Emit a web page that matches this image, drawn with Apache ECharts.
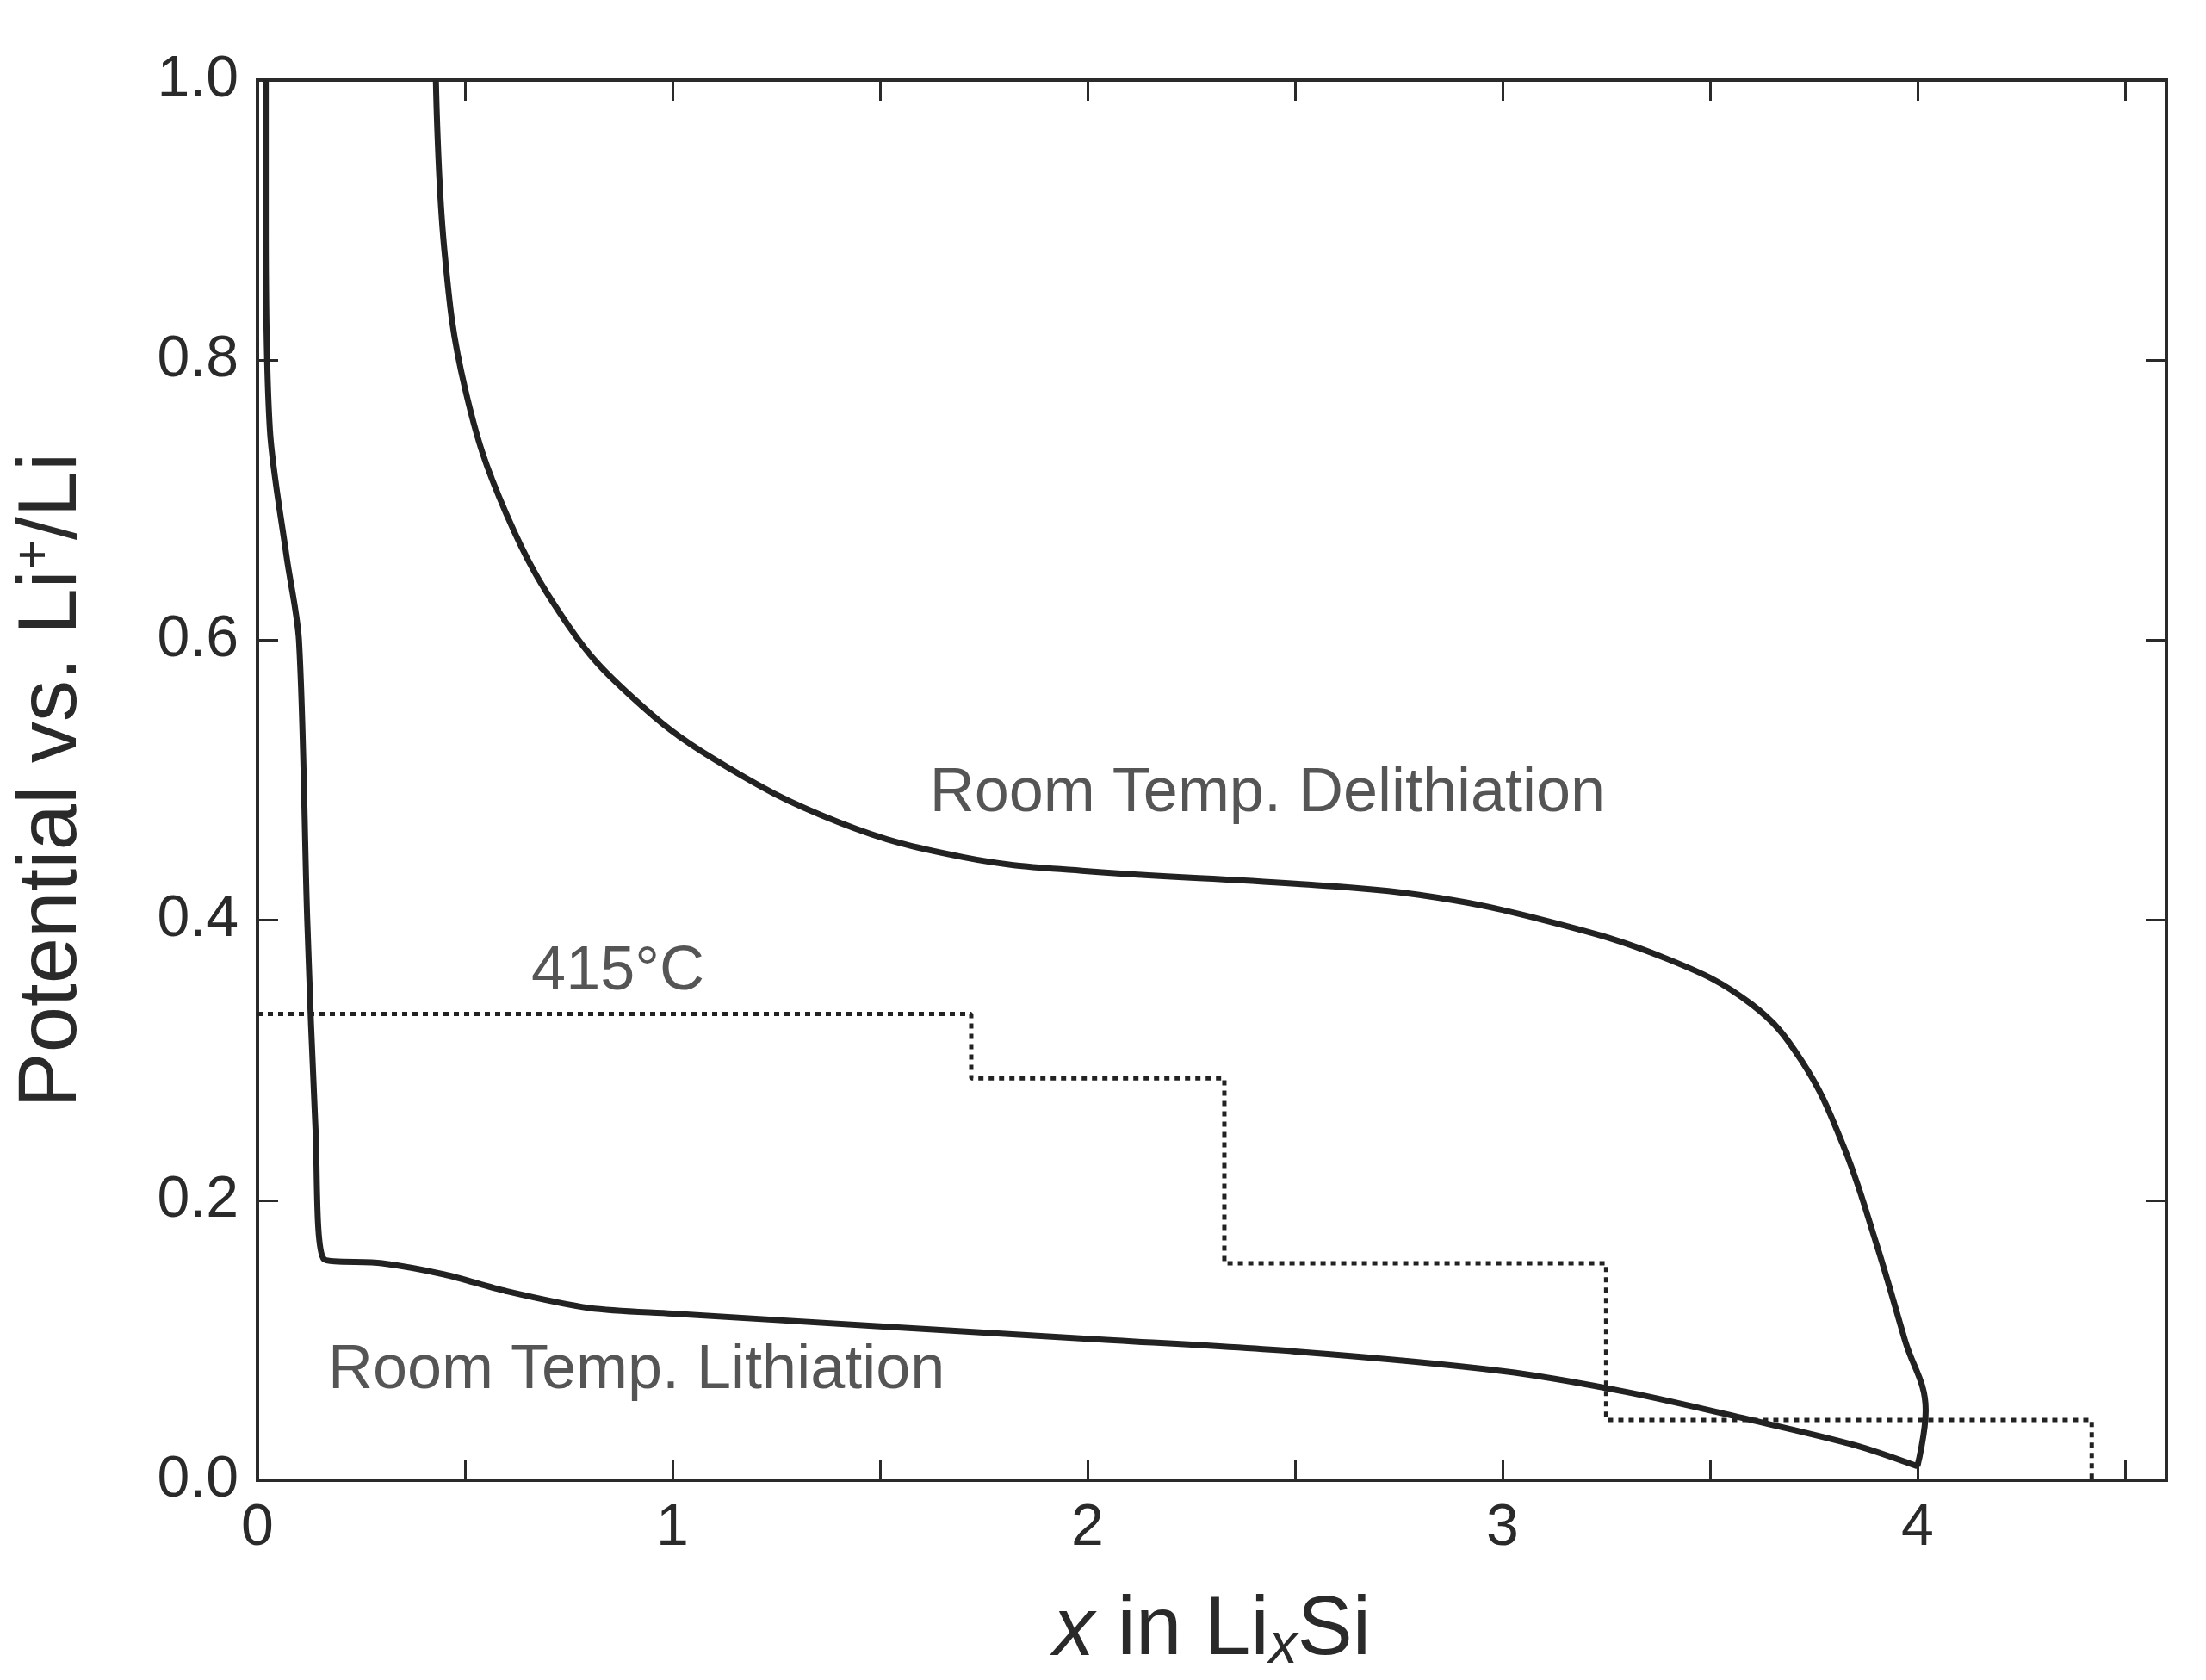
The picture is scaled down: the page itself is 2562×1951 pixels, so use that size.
<!DOCTYPE html>
<html><head><meta charset="utf-8">
<script src="https://cdn.jsdelivr.net/npm/echarts@6/dist/echarts.min.js"></script>
<style>html,body{margin:0;background:#fff}#c{width:2562px;height:1951px}</style>
</head><body><div id="c"></div>
<script>
const lithiation = [[0.02,1.0],[0.02,0.9],[0.03,0.75],[0.07,0.66],[0.1,0.6],[0.12,0.4],[0.14,0.25],[0.16,0.158],[0.3,0.155],[0.45,0.147],[0.6,0.135],[0.8,0.123],[1,0.119],[1.5,0.11],[2,0.101],[2.5,0.092],[3,0.078],[3.3,0.063],[3.6,0.043],[3.85,0.025],[4.0,0.01]];
const delithiation = [[4.0,0.01],[4.02,0.05],[3.97,0.1],[3.9,0.17],[3.82,0.24],[3.72,0.3],[3.6,0.34],[3.4,0.372],[3.1,0.4],[2.8,0.418],[2.5,0.426],[2.0,0.435],[1.7,0.445],[1.4,0.47],[1.1,0.515],[0.9,0.56],[0.75,0.61],[0.6,0.69],[0.5,0.78],[0.45,0.88],[0.43,1.0]];
const hot415 = [[0,0.333],[1.72,0.333],[1.72,0.287],[2.33,0.287],[2.33,0.155],[3.25,0.155],[3.25,0.043],[4.42,0.043],[4.42,0]];
const labels = [
  {text:'Room Temp. Delithiation', pos:[1.62,0.49]},
  {text:'Room Temp. Lithiation', pos:[0.17,0.078]},
  {text:'415°C', pos:[0.66,0.363]}
];
const font='Liberation Sans, Arial, sans-serif', col='#2a2a2a';
const chart = echarts.init(document.getElementById('c'));
const tick = {show:true,inside:true,length:24,lineStyle:{color:col,width:3}};
const minor = {show:true,splitNumber:2,length:24,lineStyle:{color:col,width:3}};
const line = {show:true,onZero:false,lineStyle:{color:col,width:4}};
chart.setOption({
  animation:false,
  grid:{left:299,right:46,top:93,bottom:226,show:true,borderColor:col,borderWidth:4,backgroundColor:'transparent'},
  xAxis:[{type:'value',min:0,max:4.6,interval:1,position:'bottom',
    axisLine:line,axisTick:tick,minorTick:minor,splitLine:{show:false},
    axisLabel:{fontSize:68,color:col,fontFamily:font,margin:22,showMaxLabel:false},
    name:'{i|x} in Li{sub|x}Si',nameLocation:'middle',nameGap:125,
    nameTextStyle:{fontSize:96,color:col,fontFamily:font,rich:{i:{fontSize:96,fontStyle:'italic',fontFamily:font,color:col},sub:{fontSize:66,fontStyle:'italic',verticalAlign:'bottom',padding:[36,0,0,0],fontFamily:font,color:col}}}},
   {type:'value',min:0,max:4.6,interval:1,position:'top',axisLine:line,axisTick:tick,minorTick:minor,axisLabel:{show:false},splitLine:{show:false}}],
  yAxis:[{type:'value',min:0,max:1,interval:0.2,position:'left',
    axisLine:line,axisTick:tick,splitLine:{show:false},
    axisLabel:{fontSize:68,color:col,fontFamily:font,margin:22,formatter:v=>v.toFixed(1)},
    name:'Potential vs. Li{sup|+}/Li',nameLocation:'middle',nameGap:185,
    nameTextStyle:{fontSize:96,color:col,fontFamily:font,rich:{sup:{fontSize:60,verticalAlign:'top',padding:[0,0,44,0],fontFamily:font,color:col}}}},
   {type:'value',min:0,max:1,interval:0.2,position:'right',axisLine:line,axisTick:tick,axisLabel:{show:false},splitLine:{show:false}}],
  series:[
    {type:'line',data:lithiation,smooth:0.3,showSymbol:false,lineStyle:{color:'#222',width:7}},
    {type:'line',data:delithiation,smooth:0.4,showSymbol:false,lineStyle:{color:'#222',width:7}},
    {type:'line',data:hot415,showSymbol:false,lineStyle:{color:'#222',width:5,type:[6,6]}},
    {type:'scatter',symbolSize:0,data:labels.map(l=>({value:l.pos,name:l.text})),
     label:{show:true,position:'right',distance:0,formatter:p=>p.name,fontSize:72,color:col,fontFamily:font}},
    {type:'line',xAxisIndex:1,yAxisIndex:1,data:[],showSymbol:false}
  ]
});
</script></body></html>
